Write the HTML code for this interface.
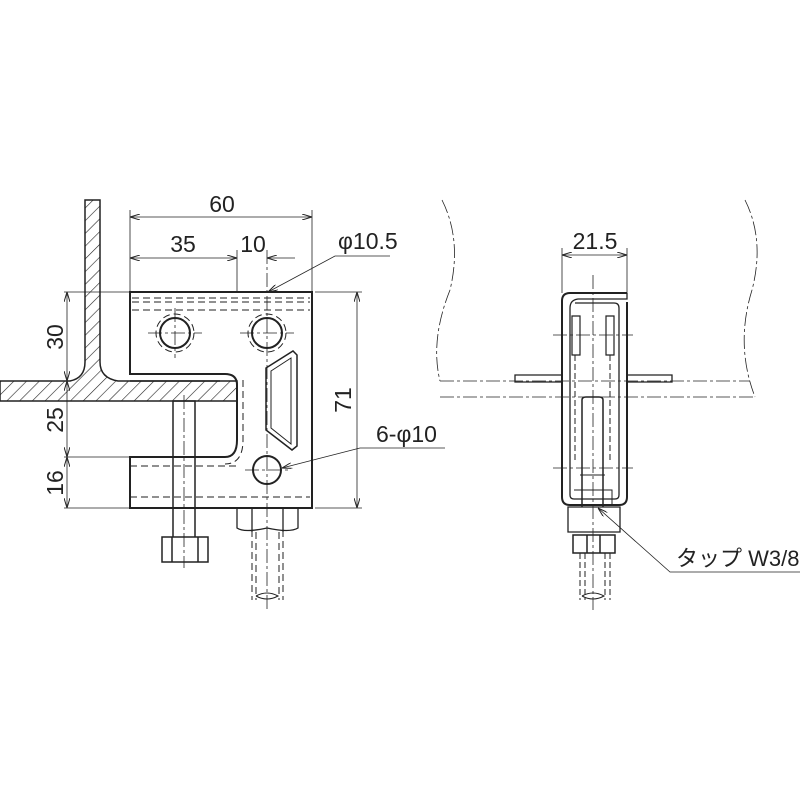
<!DOCTYPE html>
<html><head><meta charset="utf-8"><style>html,body{margin:0;padding:0;background:#fff}svg{display:block}</style></head><body>
<svg width="800" height="800" viewBox="0 0 800 800" xmlns="http://www.w3.org/2000/svg" font-family="Liberation Sans, sans-serif">
<defs>
<pattern id="h" width="9" height="9" patternUnits="userSpaceOnUse" patternTransform="rotate(45)"><line x1="0" y1="0" x2="0" y2="9" stroke="#222" stroke-width="1.2"/></pattern>
<marker id="a" viewBox="0 0 10 6" refX="10" refY="3" markerWidth="10" markerHeight="6" orient="auto-start-reverse" markerUnits="userSpaceOnUse"><path d="M0,0L10,3L0,6" fill="none" stroke="#222" stroke-width="1"/></marker>
</defs>
<g fill="none" stroke="#222" stroke-width="1">
<path d="M85,200H100V362Q100,378 118,381H237V401H0V381H70Q85,378 85,362Z" fill="url(#h)" stroke-width="1.5"/>
<path d="M130,292H312V508H130V457H225Q237,457 237,440V385Q237,374 225,374H130Z" stroke-width="2"/>
<path d="M130,381H220" stroke-width="1.5"/>
<g stroke-dasharray="7,4">
<path d="M132,298H310M132,302H310M132,310H310"/>
<path d="M130,466H237M130,497H310"/>
<path d="M243,380V440Q243,464 225,464"/>
<circle cx="175" cy="333" r="19"/><circle cx="267" cy="333" r="19"/>
<path d="M252,508V600M283,508V600M256,532V600M279,532V600"/>
</g>
<circle cx="175" cy="333" r="15" stroke-width="2"/><circle cx="267" cy="333" r="15" stroke-width="2"/>
<circle cx="267" cy="470" r="14" stroke-width="2"/>
<path d="M266,368L293,351L297,355V446L292,450L266,430Z" stroke-width="1.5"/>
<path d="M271,371L291,358V444L271,428Z"/>
<path d="M173,401H195V537M173,401V537" stroke-width="1.5"/>
<path d="M162,537H208V562H162Z M172,537V562M198,537V562" stroke-width="1.5"/>
<path d="M237,508H298V528Q290,533 267,528Q244,533 237,528Z M252,508V532M283,508V532" stroke-width="1.3"/>
<path d="M256,596Q267,590 278,596Q267,602 256,596"/>
<g stroke-dasharray="14,3,3,3" stroke-width="0.8">
<path d="M184,395V568M267,250V610M148,333H202M240,333H294M245,470H290M175,308V358"/>
</g>
<path d="M130,210V292M312,210V292M237,250V292M64,292H130M64,457H130M64,508H130M315,292H362M315,508H362" stroke-width="0.8"/>
<path d="M130,217H312" marker-start="url(#a)" marker-end="url(#a)" stroke-width="0.8"/>
<path d="M130,258H237" marker-start="url(#a)" marker-end="url(#a)" stroke-width="0.8"/>
<path d="M295,258H267" marker-end="url(#a)" stroke-width="0.8"/>
<path d="M67,292V381" marker-start="url(#a)" marker-end="url(#a)" stroke-width="0.8"/>
<path d="M67,381V457" marker-start="url(#a)" marker-end="url(#a)" stroke-width="0.8"/>
<path d="M67,457V508" marker-start="url(#a)" marker-end="url(#a)" stroke-width="0.8"/>
<path d="M357,292V508" marker-start="url(#a)" marker-end="url(#a)" stroke-width="0.8"/>
<path d="M390,256H335L268,292" marker-end="url(#a)" stroke-width="0.8"/>
<path d="M445,448H360L282,468" marker-end="url(#a)" stroke-width="0.8"/>

<g stroke-dasharray="14,3,3,3" stroke-width="0.8">
<path d="M440,381H750M440,397H755"/>
<path d="M442,200Q462,240 450,290Q430,340 440,381"/>
<path d="M745,200Q765,240 752,290Q735,345 755,397"/>
<path d="M593,275V610M553,335H633M553,468H633"/>
</g>
<path d="M515,375H562V382H515Z M627,375H672V382H627Z" stroke-width="1.3"/>
<path d="M627,293H570Q562,293 562,301V497Q562,505 570,505H619Q627,505 627,497V302" stroke-width="2"/>
<path d="M627,293V299H578Q570,300 570,308V495Q570,499 574,499H615Q619,499 619,495V308Q619,303 614,303H575" stroke-width="1.3"/>
<path d="M572,316H580V355H572Z M606,316H614V355H606Z" stroke-width="1.2"/>
<path d="M575,355V460M610,355V460" stroke-dasharray="6,3"/>
<path d="M582,400Q582,397 586,397H599Q603,397 603,400V507M582,400V507" stroke-width="1.5"/>
<path d="M580,475H605M574,490H612V505" />
<path d="M568,507H620V532H568Z" stroke-width="1.3"/>
<path d="M573,535H615V553H573Z M587,535V553M600,535V553" stroke-width="1.5"/>
<path d="M580,553V600M610,553V600M585,553V600M605,553V600" stroke-dasharray="6,3"/>
<path d="M582,596Q593,590 604,596Q593,602 582,596"/>
<path d="M562,248V293M627,248V293" stroke-width="0.8"/>
<path d="M562,255H627" marker-start="url(#a)" marker-end="url(#a)" stroke-width="0.8"/>
<path d="M800,572H670L598,508" marker-end="url(#a)" stroke-width="0.8"/>
</g>
<g fill="#222" font-size="23">
<text x="222" y="212" text-anchor="middle">60</text>
<text x="183" y="252" text-anchor="middle">35</text>
<text x="253" y="252" text-anchor="middle">10</text>
<text x="338" y="249">φ10.5</text>
<text x="376" y="442">6-φ10</text>
<text x="595" y="249" text-anchor="middle">21.5</text>
<text x="676" y="566" font-size="22" font-family="Liberation Sans, Noto Sans CJK JP, sans-serif">タップ W3/8</text>
<text transform="translate(63,337) rotate(-90)" text-anchor="middle">30</text>
<text transform="translate(63,420) rotate(-90)" text-anchor="middle">25</text>
<text transform="translate(63,483) rotate(-90)" text-anchor="middle">16</text>
<text transform="translate(351,400) rotate(-90)" text-anchor="middle">71</text>
</g>
</svg>
</body></html>
